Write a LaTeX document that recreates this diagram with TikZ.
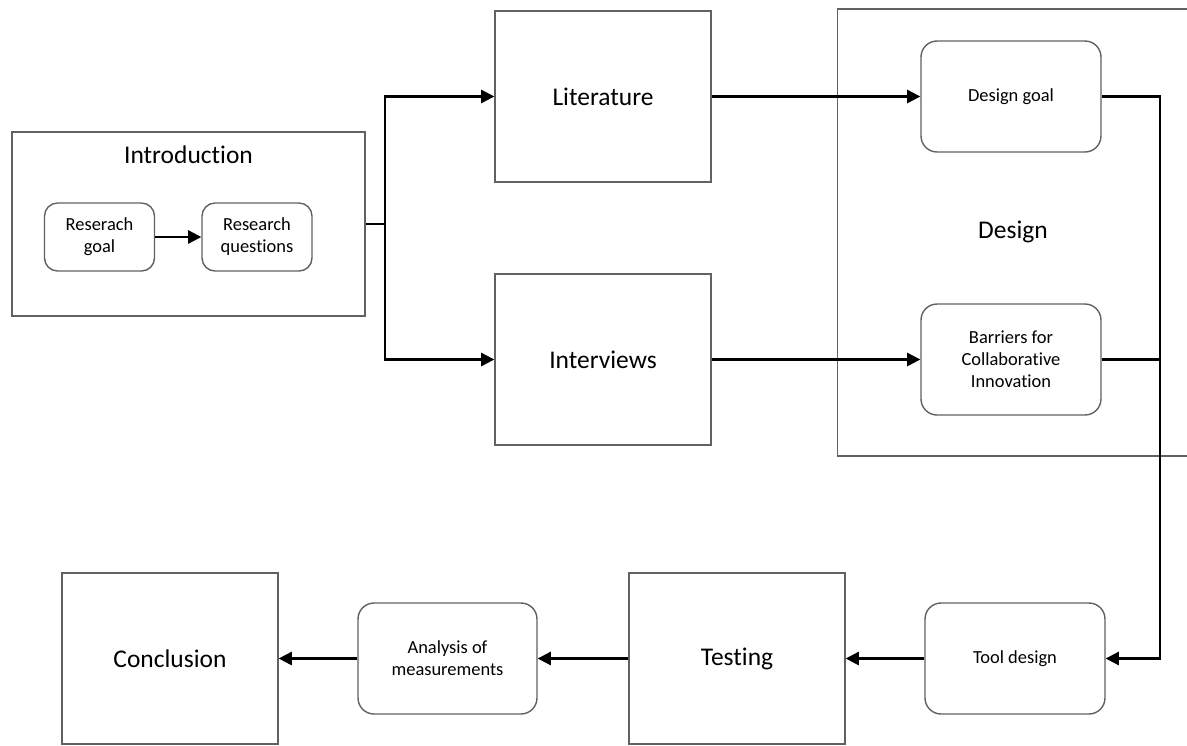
\documentclass[tikz,border=0pt]{standalone}
\usepackage{fontspec}
\setmainfont{Carlito}[Ligatures={NoCommon}]
\usetikzlibrary{arrows.meta}
\begin{document}
\begin{tikzpicture}[x=0.02cm,y=-0.02cm,
  frame/.style={draw=black!62, line width=0.8pt, inner sep=0pt},
  bigbox/.style={frame, minimum width=4.32cm, minimum height=3.42cm, font=\fontsize{14.5}{17}\selectfont},
  smallbox/.style={frame, rounded corners=0.32cm, minimum width=3.6cm, minimum height=2.22cm, align=center, font=\fontsize{10.5}{12.5}\selectfont},
  tinybox/.style={frame, rounded corners=0.26cm, minimum width=2.2cm, minimum height=1.36cm, align=center, font=\fontsize{10.5}{12.5}\selectfont},
  conn/.style={draw=black, line width=1.25pt},
  arr/.style={conn, -{Triangle[length=7.5pt,width=7.5pt]}},
  bigtext/.style={font=\fontsize{14.5}{17}\selectfont, inner sep=0pt}]
\clip (0,0) rectangle (1187,745);
\useasboundingbox (0,0) rectangle (1187,745);
% Introduction group
\node[frame, minimum width=7.06cm, minimum height=3.68cm] (intro) at (188.5,224) {};
\node[bigtext] (introtitle) at (188.5,155) {Introduction};
\node[tinybox] (rg) at (99.5,237) {Reserach\\goal};
\node[tinybox] (rq) at (257,237) {Research\\questions};
% Literature / Interviews
\node[bigbox] (lit) at (603,96.5) {Literature};
\node[bigbox] (int) at (603,359.5) {Interviews};
% Design group
\node[frame, minimum width=7.3cm, minimum height=8.94cm] (design) at (1020,232.5) {};
\node[bigtext] (designtitle) at (1013,232) {Design};
\node[smallbox] (dg) at (1011,96.5) {Design goal};
\node[smallbox] (bar) at (1011,359.5) {Barriers for\\Collaborative\\Innovation};
% Bottom row
\node[smallbox] (tool) at (1015,658.5) {Tool design};
\node[bigbox] (test) at (737,658.5) {Testing};
\node[smallbox, minimum width=3.58cm] (ana) at (447.5,658.5) {Analysis of\\measurements};
\node[bigbox] (conc) at (170,658.5) {Conclusion};
% connectors
\coordinate (j) at (385,224);
\coordinate (r) at (1160,96.5);
\coordinate (m) at (1160,359.5);
\draw[arr] (rg) -- (rq);
\draw[conn] (intro.east) -- (j);
\draw[arr] (j) |- (lit);
\draw[arr] (j) |- (int);
\draw[arr] (lit) -- (dg);
\draw[arr] (int) -- (bar);
\draw[arr] (dg) -- (r) |- (tool);
\draw[conn] (bar) -- (m);
\draw[arr] (tool) -- (test);
\draw[arr] (test) -- (ana);
\draw[arr] (ana) -- (conc);
\end{tikzpicture}
\end{document}
